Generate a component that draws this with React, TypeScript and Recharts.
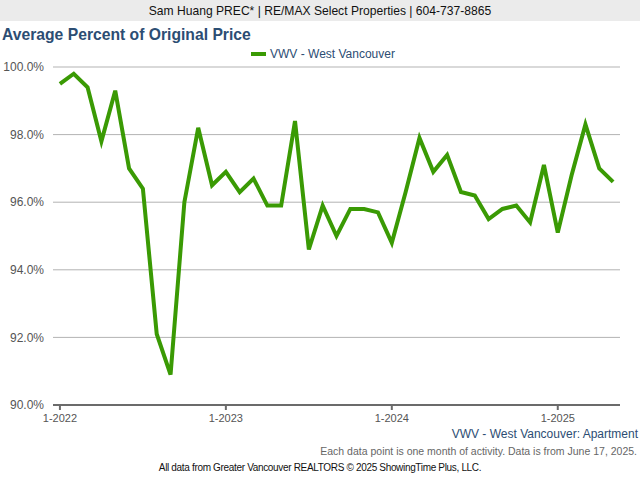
import React from 'react';
import { LineChart, Line, XAxis, YAxis, CartesianGrid } from 'recharts';

const months: string[] = [
  '2022-01','2022-02','2022-03','2022-04','2022-05','2022-06','2022-07','2022-08','2022-09','2022-10','2022-11','2022-12',
  '2023-01','2023-02','2023-03','2023-04','2023-05','2023-06','2023-07','2023-08','2023-09','2023-10','2023-11','2023-12',
  '2024-01','2024-02','2024-03','2024-04','2024-05','2024-06','2024-07','2024-08','2024-09','2024-10','2024-11','2024-12',
  '2025-01','2025-02','2025-03','2025-04','2025-05',
];

const pctOfOriginal: number[] = [
  99.5, 99.8, 99.4, 97.8, 99.3, 97.0, 96.4, 92.1, 90.9, 96.0, 98.2, 96.5,
  96.9, 96.3, 96.7, 95.9, 95.9, 98.4, 94.6, 95.9, 95.0, 95.8, 95.8, 95.7,
  94.8, 96.3, 97.9, 96.9, 97.4, 96.3, 96.2, 95.5, 95.8, 95.9, 95.4, 97.1,
  95.1, 96.8, 98.3, 97.0, 96.6,
];

const xTickIndexes: number[] = [0, 12, 24, 36];
const xTickLabels: string[] = ['1-2022', '1-2023', '1-2024', '1-2025'];
const yTicks: number[] = [90, 92, 94, 96, 98, 100];

const seriesName = 'VWV - West Vancouver';

const data = months.map((m, i) => ({ i, month: m, value: pctOfOriginal[i] }));

const FONT = "Arial, 'Liberation Sans', Helvetica, sans-serif";
const TITLE_BLUE = '#2c4d73';
const LINE_GREEN = '#3a9a04';

export default function App() {
  return (
    <div style={{ position: 'absolute', left: 0, top: 0, width: 640, height: 480, background: '#fff', fontFamily: FONT, overflow: 'hidden' }}>
      <div style={{ position: 'absolute', left: 0, top: 0, width: 640, height: 21, background: '#ebebeb', color: '#111', fontSize: 12.1, lineHeight: '22px', textAlign: 'center', whiteSpace: 'nowrap' }}>
        Sam Huang PREC* | RE/MAX Select Properties | 604-737-8865
      </div>
      <div style={{ position: 'absolute', left: 2, top: 25, fontSize: 15.7, fontWeight: 'bold', color: TITLE_BLUE, lineHeight: '20px', whiteSpace: 'nowrap' }}>
        Average Percent of Original Price
      </div>
      <div style={{ position: 'absolute', left: 0, top: 46, width: 640, height: 16, display: 'flex', justifyContent: 'center', alignItems: 'center' }}>
        <div style={{ display: 'flex', alignItems: 'center', marginLeft: 6 }}>
          <span style={{ display: 'inline-block', width: 15, height: 4, background: LINE_GREEN, marginRight: 4 }} />
          <span style={{ fontSize: 12, color: TITLE_BLUE, whiteSpace: 'nowrap' }}>{seriesName}</span>
        </div>
      </div>
      <div style={{ position: 'absolute', left: 0, top: 0 }}>
        <LineChart width={640} height={440} data={data} margin={{ top: 67, right: 20, bottom: 5, left: 0 }}>
          <CartesianGrid horizontal={true} vertical={false} stroke="#b3b3b3" strokeWidth={1} />
          <XAxis
            dataKey="i"
            type="number"
            domain={[-0.5, 40.5]}
            ticks={xTickIndexes}
            tickFormatter={(v: number) => xTickLabels[xTickIndexes.indexOf(v)] ?? ''}
            height={30}
            axisLine={{ stroke: '#6b6b6b', strokeWidth: 2 }}
            tickLine={{ stroke: '#6b6b6b', strokeWidth: 2 }}
            tickSize={5}
            tickMargin={4}
            tick={{ fill: '#555', fontSize: 11, fontFamily: FONT }}
            allowDataOverflow
          />
          <YAxis
            type="number"
            domain={[90, 100]}
            ticks={yTicks}
            tickFormatter={(v: number) => v.toFixed(1) + '%'}
            width={53}
            axisLine={false}
            tickLine={false}
            tickMargin={3}
            tick={{ fill: '#555', fontSize: 12, fontFamily: FONT }}
            allowDataOverflow
          />
          <Line
            type="linear"
            dataKey="value"
            name={seriesName}
            stroke={LINE_GREEN}
            strokeWidth={4}
            dot={false}
            activeDot={false}
            isAnimationActive={false}
          />
        </LineChart>
      </div>
      <div style={{ position: 'absolute', right: 2, top: 426, fontSize: 12, color: TITLE_BLUE, whiteSpace: 'nowrap', lineHeight: '16px' }}>
        VWV - West Vancouver: Apartment
      </div>
      <div style={{ position: 'absolute', right: 3, top: 444, fontSize: 10.5, color: '#666', whiteSpace: 'nowrap', lineHeight: '14px' }}>
        Each data point is one month of activity. Data is from June 17, 2025.
      </div>
      <div style={{ position: 'absolute', left: 0, width: 640, top: 461, fontSize: 10, letterSpacing: -0.33, color: '#111', textAlign: 'center', whiteSpace: 'nowrap', lineHeight: '14px' }}>
        All data from Greater Vancouver REALTORS © 2025 ShowingTime Plus, LLC.
      </div>
    </div>
  );
}
